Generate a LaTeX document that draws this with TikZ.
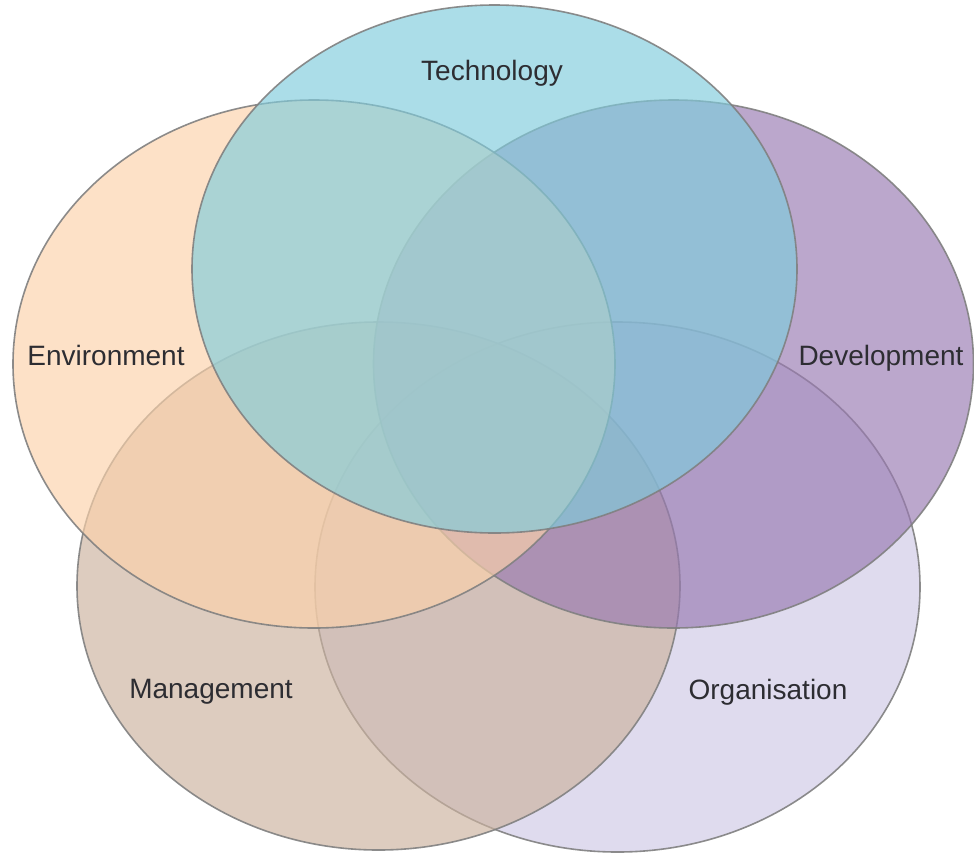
\documentclass[tikz,border=0pt]{standalone}
\usepackage{fontspec}
\setmainfont{Liberation Sans}
\definecolor{techc}{RGB}{127,204,220}
\definecolor{envc}{RGB}{252,210,170}
\definecolor{devc}{RGB}{152,121,177}
\definecolor{mgmtc}{RGB}{204,178,158}
\definecolor{orgc}{RGB}{207,201,229}
\definecolor{edgec}{RGB}{128,128,128}
\definecolor{txtc}{RGB}{45,45,50}
\begin{document}
\begin{tikzpicture}[x=1pt,y=-1pt,
  blob/.style={draw=edgec,line width=1.6pt,fill opacity=0.65,draw opacity=0.9},
  lbl/.style={text=txtc,font=\fontsize{28}{32}\selectfont,inner sep=0pt}]
\useasboundingbox (0,0) rectangle (974,855);
\fill[white] (0,0) rectangle (974,855);
\path[blob,fill=orgc]  (617.5,587) ellipse [x radius=302.5,y radius=265];
\path[blob,fill=mgmtc] (378.5,586) ellipse [x radius=301.5,y radius=264];
\path[blob,fill=devc]  (673.5,364) ellipse [x radius=300,y radius=264];
\path[blob,fill=envc]  (314,364) ellipse [x radius=301,y radius=264];
\path[blob,fill=techc] (494.5,269) ellipse [x radius=302.5,y radius=264];
\node[lbl] (tech) at (492,73) {Technology};
\node[lbl] (env) at (106,355) {Environment};
\node[lbl] (dev) at (881,358) {Development};
\node[lbl] (mgmt) at (211,692) {Management};
\node[lbl] (org) at (768,692) {Organisation};
\end{tikzpicture}
\end{document}
